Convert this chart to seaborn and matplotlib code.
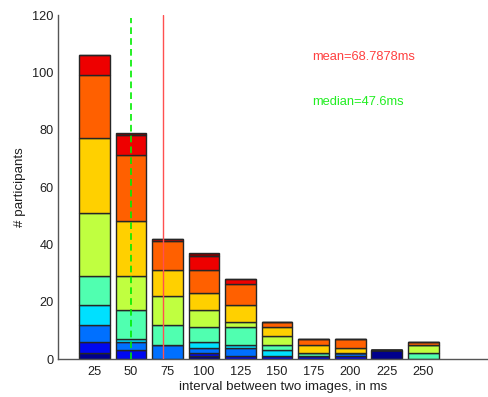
import matplotlib.pyplot as plt
import pandas as pd
import seaborn as sns

# bar positions (ms) and the 10 colour classes stacked inside each bar
intervals = [25, 50, 75, 100, 125, 150, 175, 200, 225, 250]
levels = ['c1', 'c2', 'c3', 'c4', 'c5', 'c6', 'c7', 'c8', 'c9', 'c10']
level_colors = ['#00008c', '#0008f0', '#0070ff', '#00e0ff', '#50ffb0',
                '#c0ff40', '#ffd000', '#ff6000', '#ee0000', '#800000']

# counts per class (bottom -> top) for each interval bin
c1 = [2, 0, 0, 1, 0, 0, 0, 0, 3, 0]
c2 = [4, 3, 0, 1, 1, 1, 1, 1, 0, 0]
c3 = [6, 3, 5, 2, 3, 0, 0, 1, 0, 0]
c4 = [7, 1, 0, 2, 1, 2, 0, 0, 0, 0]
c5 = [10, 10, 7, 5, 6, 2, 1, 0, 0, 2]
c6 = [22, 12, 10, 6, 2, 3, 0, 0, 0, 3]
c7 = [26, 19, 9, 6, 6, 3, 3, 2, 0, 0]
c8 = [22, 23, 10, 8, 7, 2, 2, 3, 0, 1]
c9 = [7, 7, 1, 5, 2, 0, 0, 0, 0, 0]
c10 = [0, 1, 0, 1, 0, 0, 0, 0, 0, 0]
counts = [c1, c2, c3, c4, c5, c6, c7, c8, c9, c10]

mean_pos = 72.0
median_pos = 50.3

rows = []
for lev, vals in zip(levels, counts):
    for x, n in zip(intervals, vals):
        rows.append({'interval': x, 'level': lev, 'n': n})
df = pd.DataFrame(rows)

sns.set_style('white')
plt.rcParams['font.family'] = ['Liberation Sans', 'DejaVu Sans']
ink = '#202020'

fig = plt.figure(figsize=(4.88, 3.97), dpi=100)
ax = fig.add_axes([58 / 488, 38 / 397, 450 / 488, 344 / 397])

# seaborn stacks the first hue level on top, so pass them top -> bottom
sns.histplot(data=df, x='interval', hue='level', weights='n',
             hue_order=levels[::-1], palette=level_colors[::-1],
             multiple='stack', binwidth=25, binrange=(12.5, 262.5), shrink=0.84,
             edgecolor='#262626', linewidth=1, alpha=1, legend=False, ax=ax)

ax.axvline(mean_pos, color='#ff5050', lw=1, zorder=5)
ax.axvline(median_pos, ymax=0.99, color='#00ee00', lw=1.2,
           linestyle=(0, (4, 2.5)), zorder=5)

ax.text(174, 105.3, 'mean=68.7878ms', color='#ff4040', fontsize=9.3, va='center')
ax.text(174, 89.6, 'median=47.6ms', color='#22ee22', fontsize=9.3, va='center')

ax.set_xlim(0, 308)
ax.set_ylim(0, 120)
ax.set_xticks(intervals)
ax.set_yticks(range(0, 121, 20))
ax.tick_params(direction='in', length=3, colors=ink, labelsize=9.2, pad=3)
ax.tick_params(axis='x', length=0, pad=5)
ax.set_xlabel('interval between two images, in ms', fontsize=9.6, color=ink, labelpad=2)
ax.set_ylabel('# participants', fontsize=9.6, color=ink, labelpad=5)
sns.despine(ax=ax, top=True, right=True)
for s in ['left', 'bottom']:
    ax.spines[s].set_color('#555555')
    ax.spines[s].set_linewidth(1)

fig.savefig('out.png', dpi=100, facecolor='white')
